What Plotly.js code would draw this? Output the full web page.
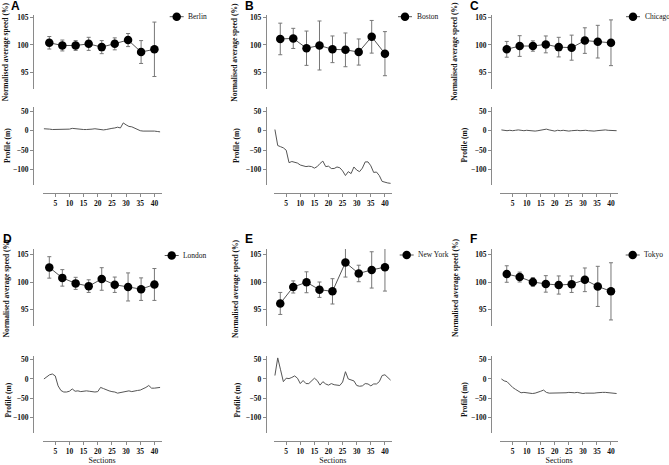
<!DOCTYPE html>
<html>
<head>
<meta charset="utf-8">
<script src="https://cdn.plot.ly/plotly-3.0.1.min.js"></script>
<style>html,body{margin:0;padding:0;background:#fff}#chart{width:669px;height:465px}</style>
</head>
<body>
<div id="chart"></div>
<script>
// ---------- data ----------
const cities = ["Berlin", "Boston", "Chicago", "London", "New York", "Tokyo"];
const panelLetters = ["A", "B", "C", "D", "E", "F"];

// x positions of the 9 speed points (in section units)
const speedSections = [2.9, 7.5, 12.2, 16.8, 21.4, 26.0, 30.7, 35.3, 40.0];

const speedBerlin  = [100.4, 99.9, 99.9, 100.2, 99.6, 100.2, 100.9, 98.7, 99.2];
const errBerlin    = [1.15, 1.0, 0.9, 1.2, 1.2, 1.1, 1.2, 2.1, 5.0];
const speedBoston  = [101.1, 101.2, 99.4, 99.9, 99.2, 99.1, 98.7, 101.5, 98.4];
const errBoston    = [2.9, 1.85, 3.15, 4.5, 2.45, 3.1, 2.4, 3.0, 4.05];
const speedChicago = [99.2, 99.8, 99.8, 100.1, 99.6, 99.5, 100.8, 100.6, 100.4];
const errChicago   = [1.45, 1.9, 0.95, 1.55, 1.8, 2.3, 2.35, 3.0, 4.2];
const speedLondon  = [102.65, 100.75, 99.75, 99.25, 100.55, 99.5, 99.1, 98.7, 99.55];
const errLondon    = [1.95, 1.5, 1.1, 1.15, 2.05, 1.4, 2.55, 2.05, 2.9];
const speedNewYork = [96.1, 99.1, 99.95, 98.6, 98.3, 103.55, 101.55, 102.2, 102.7];
const errNewYork   = [2.0, 1.1, 1.9, 1.4, 2.3, 2.65, 1.5, 3.3, 4.35];
const speedTokyo   = [101.45, 100.9, 100.0, 99.65, 99.45, 99.6, 100.4, 99.2, 98.3];
const errTokyo     = [1.5, 0.9, 0.8, 1.5, 1.65, 1.5, 2.15, 3.65, 5.2];

const sections = [1,2,3,4,5,6,7,8,9,10,11,12,13,14,15,16,17,18,19,20,21,22,23,24,25,26,27,28,29,30,31,32,33,34,35,36,37,38,39,40,41,42];

const profileBerlin  = [5,5,4,3,3,3,3,3,3,4,6,5,4,4,3,3,3,4,5,4,3,2,3,5,6,7,9,7,20,15,11,10,7,2,0,-1,-1,0,0,-1,-2,-3];
const profileBoston  = [3,-38,-41,-44,-50,-82,-79,-81,-83,-88,-90,-92,-91,-92,-96,-92,-84,-78,-92,-91,-97,-97,-93,-95,-103,-115,-105,-110,-93,-101,-105,-96,-80,-80,-90,-107,-106,-115,-130,-133,-134,-135];
const profileChicago = [2,1,0,1,0,1,2,1,0,1,0,-1,-1,0,1,2,4,2,0,-1,1,0,1,0,-1,0,1,1,0,1,1,0,-1,-1,0,1,1,2,1,1,0,0];
const profileLondon  = [0,5,11,13,8,-18,-30,-34,-34,-32,-26,-32,-31,-33,-31,-31,-32,-33,-34,-33,-22,-25,-29,-31,-33,-34,-37,-35,-34,-32,-31,-33,-31,-30,-29,-26,-22,-17,-24,-24,-23,-22];
const profileNewYork = [9,55,24,-7,2,1,4,8,2,-12,-4,-12,-12,-5,2,-4,-16,-7,-13,-16,-12,-15,-17,-17,-8,19,0,-3,-5,-17,-19,-18,-12,-13,-18,-13,-13,-7,9,11,5,-3];
const profileTokyo   = [0,-5,-7,-16,-22,-27,-32,-36,-35,-36,-37,-38,-37,-35,-32,-29,-35,-37,-37,-37,-37,-37,-37,-36,-35,-36,-36,-35,-37,-38,-37,-37,-38,-37,-36,-35,-35,-35,-36,-37,-37,-38];

const xTickVals = [5,10,15,20,25,30,35,40];
const speedTickVals = [95,100,105];
const profileTickVals = [-100,-50,0,50];

const speeds = [speedBerlin, speedBoston, speedChicago, speedLondon, speedNewYork, speedTokyo];
const errs = [errBerlin, errBoston, errChicago, errLondon, errNewYork, errTokyo];
const profiles = [profileBerlin, profileBoston, profileChicago, profileLondon, profileNewYork, profileTokyo];

// ---------- layout geometry (pixels) ----------
const W = 669, H = 465;
const px = v => v / W;
const py = v => 1 - v / H;

const colX = [[42.5, 161.5], [273.5, 392], [500, 618]];
const colYAxis = [33, 265.7, 491];
const rowTop = [[15, 88.5], [249, 326]];
const rowBot = [[107.3, 185.3], [356, 432.6]];
const rowXAxis = [193, 441];
const speedRanges = [[92, 105.5], [92, 106]];
// per-panel legend key: glyph centre (pixels); label starts 9.5px to the right
const legendKeyPos = [[176.7, 16.7], [405, 16.7], [633, 16.7], [171.7, 255.5], [406.7, 255], [632.7, 255]];

const serif = "Liberation Serif, Times New Roman, serif";
const textColor = "#111";
const axisColor = "#8a8a8a";
const seriesLineColor = "#555";
function tickFont() { return {family: serif, size: 7.5, color: textColor, weight: "bold"}; }

const data = [];
const layout = {
  width: W, height: H,
  margin: {l: 0, r: 0, t: 0, b: 0},
  paper_bgcolor: "#fff", plot_bgcolor: "rgba(0,0,0,0)",
  showlegend: false,
  annotations: [],
  shapes: [],
  font: {family: serif, color: textColor}
};

for (let p = 0; p < 6; p++) {
  const row = Math.floor(p / 3), col = p % 3;
  const iTop = 2 * p + 1, iBot = 2 * p + 2;
  const xd = [px(colX[col][0]), px(colX[col][1])];

  data.push({
    type: "scatter", mode: "lines+markers",
    x: speedSections, y: speeds[p], name: cities[p],
    xaxis: "x" + iTop, yaxis: "y" + iTop,
    line: {color: seriesLineColor, width: 1},
    marker: {color: "#000", size: 8.5, symbol: "circle"},
    error_y: {type: "data", array: errs[p], visible: true, color: "#777", thickness: 1, width: 2}
  });
  data.push({
    type: "scatter", mode: "lines",
    x: sections, y: profiles[p], name: cities[p] + " profile",
    xaxis: "x" + iBot, yaxis: "y" + iBot,
    line: {color: seriesLineColor, width: 1}
  });

  layout["xaxis" + iTop] = {domain: xd, range: [0.5, 42.5], visible: false, anchor: "y" + iTop, fixedrange: true};
  layout["yaxis" + iTop] = {
    domain: [py(rowTop[row][1]), py(rowTop[row][0])], range: speedRanges[row],
    anchor: "free", position: px(colYAxis[col]),
    showline: true, linecolor: axisColor, linewidth: 1, showgrid: false, zeroline: false,
    ticks: "outside", ticklen: 3, tickcolor: axisColor, tickvals: speedTickVals,
    tickfont: tickFont(), fixedrange: true
  };
  layout["xaxis" + iBot] = {
    domain: xd, range: [0.5, 42.5], anchor: "free", position: py(rowXAxis[row]),
    showline: true, linecolor: axisColor, linewidth: 1, showgrid: false, zeroline: false,
    ticks: "outside", ticklen: 3, tickcolor: axisColor, tickvals: xTickVals,
    tickfont: tickFont(), fixedrange: true,
    title: row === 1 ? {text: "Sections", font: {family: serif, size: 8, color: textColor}, standoff: 3} : undefined
  };
  layout["yaxis" + iBot] = {
    domain: [py(rowBot[row][1]), py(rowBot[row][0])], range: [-140, 60],
    anchor: "free", position: px(colYAxis[col]),
    showline: true, linecolor: axisColor, linewidth: 1, showgrid: false, zeroline: false,
    ticks: "outside", ticklen: 3, tickcolor: axisColor, tickvals: profileTickVals,
    tickfont: tickFont(), fixedrange: true
  };

  // legend key (GraphPad style: short line with a dot, label beside it)
  const [kx, ky] = legendKeyPos[p];
  layout.shapes.push({
    type: "line", xref: "paper", yref: "paper", xsizemode: "pixel", ysizemode: "pixel",
    xanchor: px(kx), yanchor: py(ky), x0: -7, x1: 7, y0: 0, y1: 0,
    line: {color: seriesLineColor, width: 1}
  });
  layout.shapes.push({
    type: "circle", xref: "paper", yref: "paper", xsizemode: "pixel", ysizemode: "pixel",
    xanchor: px(kx), yanchor: py(ky), x0: -4.25, x1: 4.25, y0: -4.25, y1: 4.25,
    fillcolor: "#000", line: {color: "#000", width: 0}
  });
  layout.annotations.push({
    text: cities[p], xref: "paper", yref: "paper",
    x: px(kx + 9.5), y: py(ky), xanchor: "left", yanchor: "middle",
    showarrow: false, font: {family: serif, size: 7.5, color: textColor}
  });

  // panel letter
  const letterPos = [[15, 5.5], [249.5, 5.5], [474, 5.5], [7, 238.5], [248.5, 239], [473.5, 239]][p];
  layout.annotations.push({
    text: "<b>" + panelLetters[p] + "</b>", xref: "paper", yref: "paper",
    x: px(letterPos[0]), y: py(letterPos[1]), xanchor: "center", yanchor: "middle",
    showarrow: false, font: {family: "Liberation Sans, Arial, sans-serif", size: 12, color: "#000"}
  });
  // y-axis titles
  const topTitleX = [5.5, 235, 455][col];
  const botTitleX = [7.5, 236.5, 464][col];
  layout.annotations.push({
    text: "Normalised average speed (%)", xref: "paper", yref: "paper",
    x: px(topTitleX), y: py([51.7, 288][row]), xanchor: "center", yanchor: "middle",
    textangle: -90, showarrow: false,
    font: {family: serif, size: 7.5, color: textColor, weight: "bold"}
  });
  layout.annotations.push({
    text: "Profile (m)", xref: "paper", yref: "paper",
    x: px(botTitleX), y: py([145.5, 400][row]), xanchor: "center", yanchor: "middle",
    textangle: -90, showarrow: false,
    font: {family: serif, size: 7.5, color: textColor, weight: "bold"}
  });
}

Plotly.newPlot("chart", data, layout, {staticPlot: true, displayModeBar: false});
</script>
</body>
</html>
